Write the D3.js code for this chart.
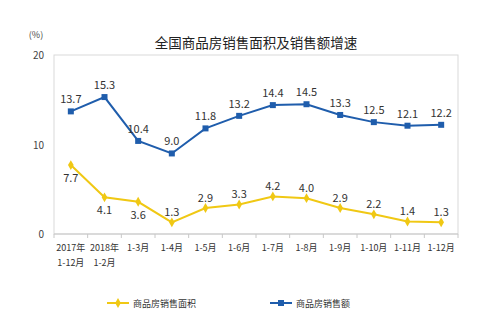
<!DOCTYPE html>
<html><head><meta charset="utf-8">
<script src="https://cdn.jsdelivr.net/npm/d3@7"></script>
<style>body{margin:0;background:#fff}svg{display:block}text{font-family:"Noto Sans CJK SC","DejaVu Sans",sans-serif}</style>
</head><body><svg id="c" width="500" height="322"></svg>
<script>
const categories = ["2017年|1-12月","2018年|1-2月","1-3月","1-4月","1-5月","1-6月","1-7月","1-8月","1-9月","1-10月","1-11月","1-12月"];
const areaValues = [7.7,4.1,3.6,1.3,2.9,3.3,4.2,4.0,2.9,2.2,1.4,1.3];
const salesValues = [13.7,15.3,10.4,9.0,11.8,13.2,14.4,14.5,13.3,12.5,12.1,12.2];
const yTicks = [0,10,20];
const areaLabelBelow = [true,true,true,false,false,false,false,false,false,false,false,false];
const seriesNames = ["商品房销售面积","商品房销售额"];

const svg = d3.select("#c");
const L=54,R=458,T=55,B=234;
const x = d3.scaleBand().domain(d3.range(categories.length)).range([L,R]);
const y = d3.scaleLinear().domain([0,20]).range([B,T]);
const blue="#1f5dac", yellow="#f0c814";

svg.append("text").attr("x",256).attr("y",48).attr("text-anchor","middle").attr("font-size",13.5).attr("fill","#222").text("全国商品房销售面积及销售额增速");
svg.append("text").attr("x",36).attr("y",38).attr("text-anchor","middle").attr("font-size",9).attr("fill","#444").text("(%)");

// frame
svg.append("rect").attr("x",L).attr("y",T).attr("width",R-L).attr("height",B-T).attr("fill","none").attr("stroke","#d9d9d9");
svg.append("line").attr("x1",L).attr("x2",R).attr("y1",B).attr("y2",B).attr("stroke","#c8c8c8");
// y labels
yTicks.forEach(t=>{
  svg.append("text").attr("x",44).attr("y",y(t)+4).attr("text-anchor","end").attr("font-size",10).attr("fill","#444").attr("font-family","Liberation Sans, Arial").text(t);
});
// x ticks
d3.range(categories.length+1).forEach(i=>{
  const xx = i<categories.length? x(i): R;
  svg.append("line").attr("x1",xx).attr("x2",xx).attr("y1",B).attr("y2",B+4).attr("stroke","#c8c8c8");
});
categories.forEach((c,i)=>{
  const parts=c.split("|");
  parts.forEach((p,j)=>{
    svg.append("text").attr("x",x(i)+x.bandwidth()/2).attr("y",251+j*15).attr("text-anchor","middle").attr("font-size",9).attr("fill","#333").text(p);
  });
});

const line = d3.line().x((d,i)=>x(i)+x.bandwidth()/2).y(d=>y(d));
svg.append("path").datum(salesValues).attr("d",line).attr("fill","none").attr("stroke",blue).attr("stroke-width",2);
svg.append("path").datum(areaValues).attr("d",line).attr("fill","none").attr("stroke",yellow).attr("stroke-width",2);

salesValues.forEach((v,i)=>{
  const cx=x(i)+x.bandwidth()/2, cy=y(v);
  svg.append("rect").attr("x",cx-3).attr("y",cy-3).attr("width",6).attr("height",6).attr("fill",blue);
  svg.append("text").attr("x",cx).attr("y",cy-8).attr("text-anchor","middle").attr("font-size",11).attr("fill","#333").attr("font-family","Liberation Sans, Arial").text(v.toFixed(1));
});
areaValues.forEach((v,i)=>{
  const cx=x(i)+x.bandwidth()/2, cy=y(v);
  svg.append("path").attr("d",d3.symbol(d3.symbolDiamond,28)()).attr("transform",`translate(${cx},${cy})`).attr("fill",yellow);
  svg.append("text").attr("x",cx).attr("y",areaLabelBelow[i]?cy+17:cy-6).attr("text-anchor","middle").attr("font-size",11).attr("fill","#333").attr("font-family","Liberation Sans, Arial").text(v.toFixed(1));
});

// legend
[[yellow,107,seriesNames[0],"d"],[blue,270,seriesNames[1],"s"]].forEach(([col,lx,name,m])=>{
  const ly=303;
  svg.append("line").attr("x1",lx).attr("x2",lx+22).attr("y1",ly).attr("y2",ly).attr("stroke",col).attr("stroke-width",2);
  if(m==="s") svg.append("rect").attr("x",lx+8).attr("y",ly-3).attr("width",6).attr("height",6).attr("fill",col);
  else svg.append("path").attr("d",d3.symbol(d3.symbolDiamond,28)()).attr("transform",`translate(${lx+11},${ly})`).attr("fill",col);
  svg.append("text").attr("x",lx+26).attr("y",ly+3.5).attr("font-size",9).attr("fill","#333").text(name);
});
</script></body></html>
